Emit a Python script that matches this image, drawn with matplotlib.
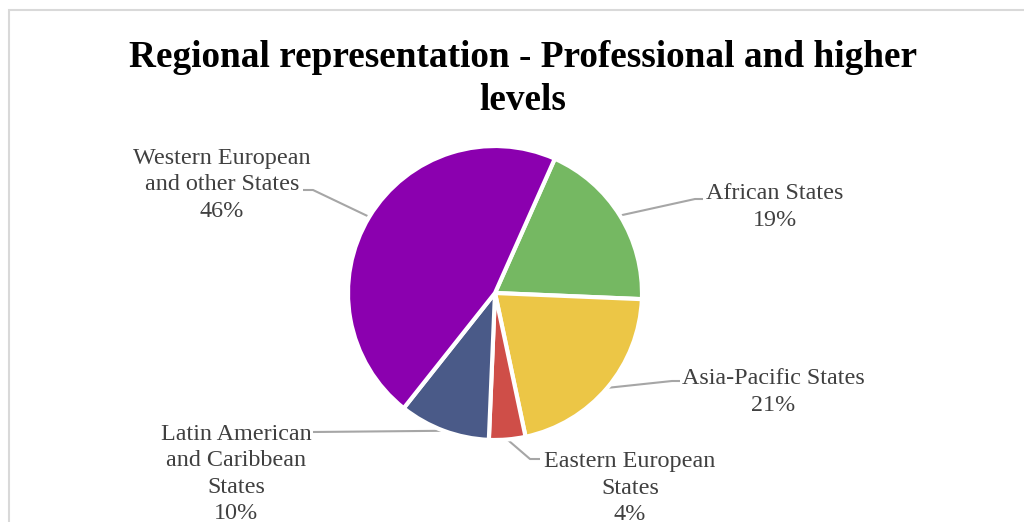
import numpy as np
import matplotlib
matplotlib.use("Agg")
import matplotlib.pyplot as plt
from matplotlib.patches import Rectangle

# Data
categories = ["African States", "Asia-Pacific States", "Eastern European\nStates",
              "Latin American\nand Caribbean\nStates", "Western European\nand other States"]
values = [19, 21, 4, 10, 46]
colors = ["#75B862", "#ECC646", "#CF4E48", "#4A5A88", "#8B00AF"]
title = "Regional representation - Professional and higher\nlevels"

W, H = 1024, 522
fig = plt.figure(figsize=(W / 100, H / 100), dpi=100)
ax = fig.add_axes([0, 0, 1, 1])

CX, CY, R = 495, 293, 147  # pixel centre and radius of the pie


def px(x, y):
    return (x - CX) / R, (CY - y) / R


wedges, _ = ax.pie(values, colors=colors, startangle=66, counterclock=False,
                   radius=1, center=(0, 0),
                   wedgeprops=dict(edgecolor="white", linewidth=3))

ax.set_xlim(-CX / R, (W - CX) / R)
ax.set_ylim(-(H - CY) / R, CY / R)
ax.set_aspect("auto")
ax.axis("off")

# Border of the chart area
fig.patches.append(Rectangle((9 / W, -0.1), 1.2, (H - 10) / H + 0.1,
                             transform=fig.transFigure, fill=False,
                             edgecolor="#D9D9D9", linewidth=1.5))

fig.text(523 / W, 1 - 79 / H, title, ha="center", va="center",
         fontsize=26.8, fontweight="bold", family="Liberation Serif",
         color="black", linespacing=1.3)

# label layout: (text centre px, elbow px, end px)
layout = [
    ((775, 207), (695, 199), (703, 199)),
    ((773, 392), (672, 381), (680, 381)),
    ((630, 488), (530, 459), (540, 459)),
    ((236, 474), (313, 432), (313, 432)),
    ((222, 185), (313, 190), (303, 190)),
]

for w, cat, val, (tc, elbow, end) in zip(wedges, categories, values, layout):
    mid = np.deg2rad((w.theta1 + w.theta2) / 2)
    ax0, ay0 = np.cos(mid), np.sin(mid)
    ex, ey = px(*elbow)
    nx, ny = px(*end)
    ax.plot([ax0, ex, nx], [ay0, ey, ny], color="#A6A6A6", lw=1.5,
            solid_capstyle="butt", zorder=0)
    tx, ty = px(*tc)
    ax.text(tx, ty, f"{cat}\n{val}%", ha="center", va="center",
            fontsize=17.4, family="Liberation Serif", color="#404040",
            linespacing=1.35)

fig.savefig("out.png", dpi=100)
